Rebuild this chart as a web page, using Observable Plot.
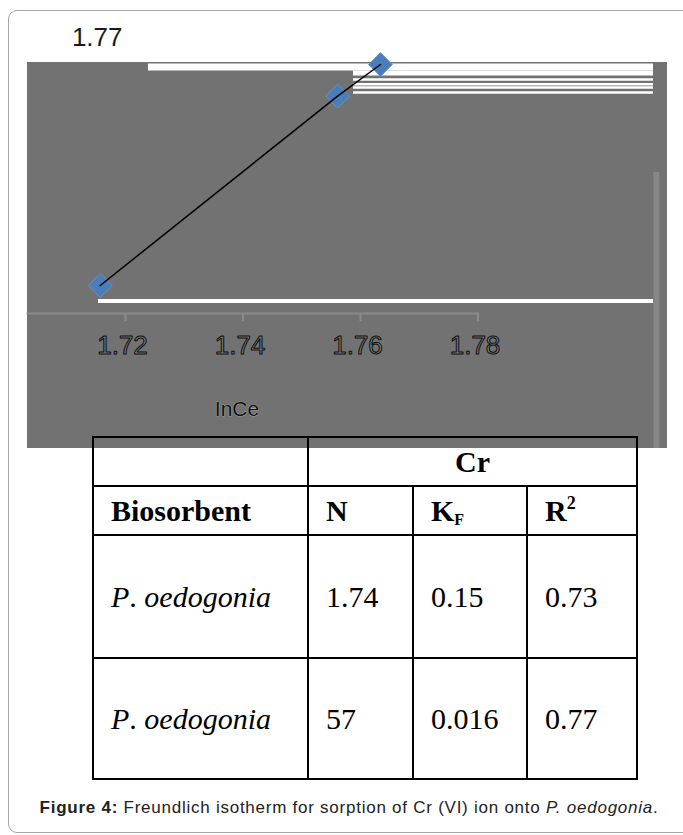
<!DOCTYPE html>
<html>
<head>
<meta charset="utf-8">
<script src="https://cdn.jsdelivr.net/npm/d3@7"></script>
<script src="https://cdn.jsdelivr.net/npm/@observablehq/plot@0.6"></script>
<style>
  html, body { margin: 0; padding: 0; background: #fff; }
  #page { position: relative; width: 683px; height: 835px; overflow: hidden; }
  #box { position: absolute; left: 8px; top: 10px; width: 700px; height: 823px;
         border: 1px solid #a8a8a8; border-radius: 9px; box-sizing: border-box; }
  #chart { position: absolute; left: 27px; top: 20px; }
  #tbl { position: absolute; left: 92px; top: 436px; border-collapse: collapse;
         table-layout: fixed; width: 544px; font-family: "Liberation Serif", "Times New Roman", serif;
         font-size: 30px; color: #000; }
  #tbl td { border: 2px solid #000; padding: 0 0 0 17px; vertical-align: middle; background: transparent; }
  #tbl .hdr { font-weight: bold; }
  #tbl .c { text-align: center; padding: 0; }
  #tbl i { font-style: italic; }
  #tbl sub { font-size: 16px; vertical-align: -4px; line-height: 0; }
  #tbl sup { font-size: 18px; vertical-align: 12px; line-height: 0; }
  #caption { position: absolute; left: 0; top: 798px; width: 698px; text-align: center;
             font-family: "Liberation Sans", Arial, sans-serif; font-size: 17px; letter-spacing: 0.75px; color: #222; }
</style>
</head>
<body>
<div id="page">
  <div id="box"></div>
  <div id="chart"></div>
  <table id="tbl">
    <colgroup><col style="width:215px"><col style="width:105px"><col style="width:114px"><col style="width:110px"></colgroup>
    <tr style="height:49px"><td></td><td colspan="3" class="hdr c">Cr</td></tr>
    <tr style="height:49px"><td class="hdr">Biosorbent</td><td class="hdr">N</td><td class="hdr">K<sub>F</sub></td><td class="hdr">R<sup>2</sup></td></tr>
    <tr style="height:123px"><td><i>P</i>. <i>oedogonia</i></td><td>1.74</td><td>0.15</td><td>0.73</td></tr>
    <tr style="height:121px"><td><i>P</i>. <i>oedogonia</i></td><td>57</td><td>0.016</td><td>0.77</td></tr>
  </table>
  <div id="caption"><b>Figure 4:</b> Freundlich isotherm for sorption of Cr (VI) ion onto <i>P. oedogonia</i>.</div>
</div>
<script>
// ---- data ----
const lnCe = [1.7157, 1.7561, 1.7634];
const lnQe = [1.700, 1.760, 1.770];
const xTicks = [1.72, 1.74, 1.76, 1.78];
const yTicks = [1.77];
const xLabel = "InCe";

// reference bands / rules seen in the plot area (data units)
const topBand = [{y: 1.76921, x1: 1.72391, x2: 1.80987}];
const topBand2 = [{y: 1.76731, x1: 1.75881, x2: 1.80987}];
const stripes = [
  {y: 1.76525, x1: 1.75881, x2: 1.80987},
  {y: 1.76375, x1: 1.75881, x2: 1.80987},
  {y: 1.76272, x1: 1.75881, x2: 1.80987},
  {y: 1.76113, x1: 1.75881, x2: 1.80987}
];
const floorLine = [{y: 1.69509, x1: 1.7154, x2: 1.80987}];
const sideLine = [{x: 1.81038, y1: 1.73579, y2: 1.64837}];

const points = lnCe.map((x, i) => ({x, y: lnQe[i]}));

const chart = Plot.plot({
  width: 640,
  height: 428,
  marginLeft: 0,
  marginRight: 189.5,
  marginTop: 0,
  marginBottom: 135,
  x: {domain: [1.72, 1.78], range: [98, 450.5]},
  y: {domain: [1.70, 1.77], range: [265, 44]},
  style: {
    background: "linear-gradient(to bottom, #ffffff 0px, #ffffff 42px, #727272 42px, #727272 100%)",
    overflow: "visible",
    fontFamily: "'Liberation Sans', Arial, sans-serif"
  },
  marks: [
    Plot.ruleY(topBand, {y: "y", x1: "x1", x2: "x2", stroke: "#ffffff", strokeWidth: 7}),
    Plot.ruleY(topBand2, {y: "y", x1: "x1", x2: "x2", stroke: "#ffffff", strokeWidth: 5}),
    Plot.ruleY(stripes, {y: "y", x1: "x1", x2: "x2", stroke: "#ffffff", strokeWidth: 2.5}),
    Plot.ruleY(floorLine, {y: "y", x1: "x1", x2: "x2", stroke: "#ffffff", strokeWidth: 4}),
    Plot.ruleX(sideLine, {x: "x", y1: "y1", y2: "y2", stroke: "#878787", strokeWidth: 6}),
    Plot.frame({anchor: "bottom", stroke: "#8a8a8a", strokeWidth: 2}),
    Plot.axisX(xTicks, {anchor: "bottom", tickSize: 8, stroke: "#8a8a8a", strokeWidth: 2, tickFormat: () => "", label: null}),
    Plot.text(xTicks, {x: d => d, frameAnchor: "bottom", dy: 40, dx: -3, text: d => d.toFixed(2),
      fontSize: 26, fill: "#7c7c7c", stroke: "#0e0e0e", strokeWidth: 1, paintOrder: "normal"}),
    Plot.text([xLabel], {x: () => xTicks[1], frameAnchor: "bottom", dy: 102, dx: -6, text: d => d,
      fontSize: 21, fill: "#111", stroke: "#bdbdbd", strokeWidth: 0.7, paintOrder: "stroke"}),
    Plot.axisY(yTicks, {anchor: "left", tickSize: 0, tickPadding: 0, dx: 95, dy: -27, fontSize: 26,
      fill: "#1a1a1a", label: null, tickFormat: d => d.toFixed(2)}),
    Plot.dot(points, {x: "x", y: "y", symbol: "square", rotate: 45, r: 9.5, fill: "#4a7ebb", stroke: "#6b95cb", strokeWidth: 0.8}),
    Plot.line(points, {x: "x", y: "y", stroke: "#000", strokeWidth: 1.5})
  ]
});
document.getElementById("chart").appendChild(chart);
</script>
</body>
</html>
